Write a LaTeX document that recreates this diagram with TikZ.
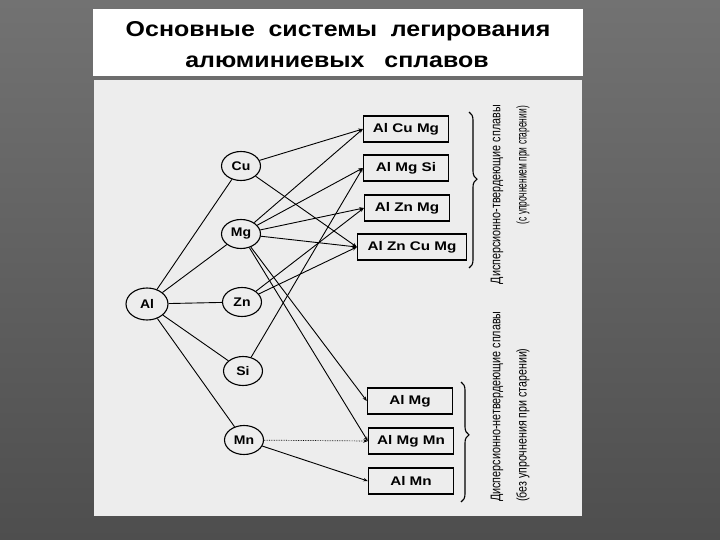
\documentclass[tikz,border=0pt]{standalone}
\usepackage{fontspec}
\setmainfont{Liberation Sans}
\usetikzlibrary{decorations.pathreplacing,arrows.meta,shapes.geometric}
\definecolor{bgA}{HTML}{727272}
\definecolor{bgB}{HTML}{4E4E4E}
\definecolor{scan}{HTML}{EDEDED}
\newcommand{\widetxt}[2]{\scalebox{#1}[1]{#2}}
\begin{document}
\begin{tikzpicture}[x=1pt,y=-1pt,
  elem/.style={ellipse, draw, line width=1.1pt, fill=scan, minimum width=39pt, minimum height=29pt, inner sep=0pt, font=\fontsize{12.5}{14}\selectfont\bfseries},
  alloy/.style={rectangle, draw, line width=1.4pt, fill=scan, minimum width=85pt, minimum height=26pt, inner sep=0pt, font=\fontsize{12.5}{14}\selectfont\bfseries},
  link/.style={line width=0.9pt},
  tolink/.style={line width=0.9pt, -{Stealth[length=4.5pt,width=3.5pt]}},
  side/.style={rotate=90, inner sep=0pt, font=\fontsize{14}{16}\selectfont},
  bracestyle/.style={decorate, line width=1.1pt},
  titlefont/.style={font=\fontsize{21.5}{24}\selectfont\bfseries}
]
\useasboundingbox (0,0) rectangle (720,540);
\shade[top color=bgA, bottom color=bgB] (0,0) rectangle (720,540);
% title panel
\fill[white] (93,9) rectangle (583,76);
\node[titlefont, anchor=base] (t1) at (338,37) {\widetxt{1.16}{Основные\hspace{0.55em}системы\hspace{0.55em}легирования}};
\node[titlefont, anchor=base] (t2) at (337,68) {\widetxt{1.16}{алюминиевых\hspace{0.8em}сплавов}};
% scan panel
\fill[scan] (94,80) rectangle (582,516);

% element nodes
\node[elem, minimum width=42pt, minimum height=32pt] (al) at (147,304) {\widetxt{1.12}{Al}};
\node[elem] (cu) at (241,166) {\widetxt{1.12}{Cu}};
\node[elem] (mg) at (241,234) {\widetxt{1.12}{Mg}};
\node[elem] (zn) at (242,302) {\widetxt{1.12}{Zn}};
\node[elem] (si) at (243,371) {\widetxt{1.12}{Si}};
\node[elem] (mn) at (244,440) {\widetxt{1.12}{Mn}};

% alloy boxes
\node[alloy] (acm) at (406,129) {\widetxt{1.22}{Al Cu Mg}};
\node[alloy] (ams) at (406,168) {\widetxt{1.22}{Al Mg Si}};
\node[alloy] (azm) at (407,208) {\widetxt{1.22}{Al Zn Mg}};
\node[alloy, minimum width=109pt] (azcm) at (412,247) {\widetxt{1.22}{Al Zn Cu Mg}};
\node[alloy] (am) at (410,401) {\widetxt{1.22}{Al Mg}};
\node[alloy] (amm) at (411,441) {\widetxt{1.22}{Al Mg Mn}};
\node[alloy] (amn) at (411,481) {\widetxt{1.22}{Al Mn}};

% Al to elements
\draw[link] (al) -- (cu);
\draw[link] (al) -- (mg);
\draw[link] (al) -- (zn);
\draw[link] (al) -- (si);
\draw[link] (al) -- (mn);

% elements to alloys
\draw[tolink] (cu) -- (acm.west);
\draw[tolink] (cu) -- (azcm.west);
\draw[tolink] (mg) -- (acm.west);
\draw[tolink] (mg) -- (ams.west);
\draw[tolink] (mg) -- (azm.west);
\draw[tolink] (mg) -- (azcm.west);
\draw[tolink] (mg) -- (am.west);
\draw[tolink] (mg) -- (amm.west);
\draw[tolink] (zn) -- (azm.west);
\draw[tolink] (zn) -- (azcm.west);
\draw[tolink] (si) -- (ams.west);
\draw[tolink, line width=0.7pt, densely dotted] (mn) -- (amm.west);
\draw[tolink] (mn) -- (amn.west);

% braces
\coordinate (b1s) at (469,112);
\coordinate (b1e) at (469,268);
\draw[bracestyle, decoration={brace, amplitude=8pt, aspect=0.43}] (b1s) -- (b1e);
\coordinate (b2s) at (461,382);
\coordinate (b2e) at (461,502);
\draw[bracestyle, decoration={brace, amplitude=8pt, aspect=0.44}] (b2s) -- (b2e);

% side labels
\node[side, anchor=east] (s1) at (497,105) {\widetxt{0.77}{Дисперсионно-твердеющие сплавы}};
\node[side, anchor=east] (s2) at (523,106) {\widetxt{0.6}{(с упрочнением при старении)}};
\node[side, anchor=west] (s3) at (497,502) {\widetxt{0.77}{Дисперсионно-нетвердеющие сплавы}};
\node[side, anchor=west] (s4) at (523,502) {\widetxt{0.76}{(без упрочнения при старении)}};
\end{tikzpicture}
\end{document}
